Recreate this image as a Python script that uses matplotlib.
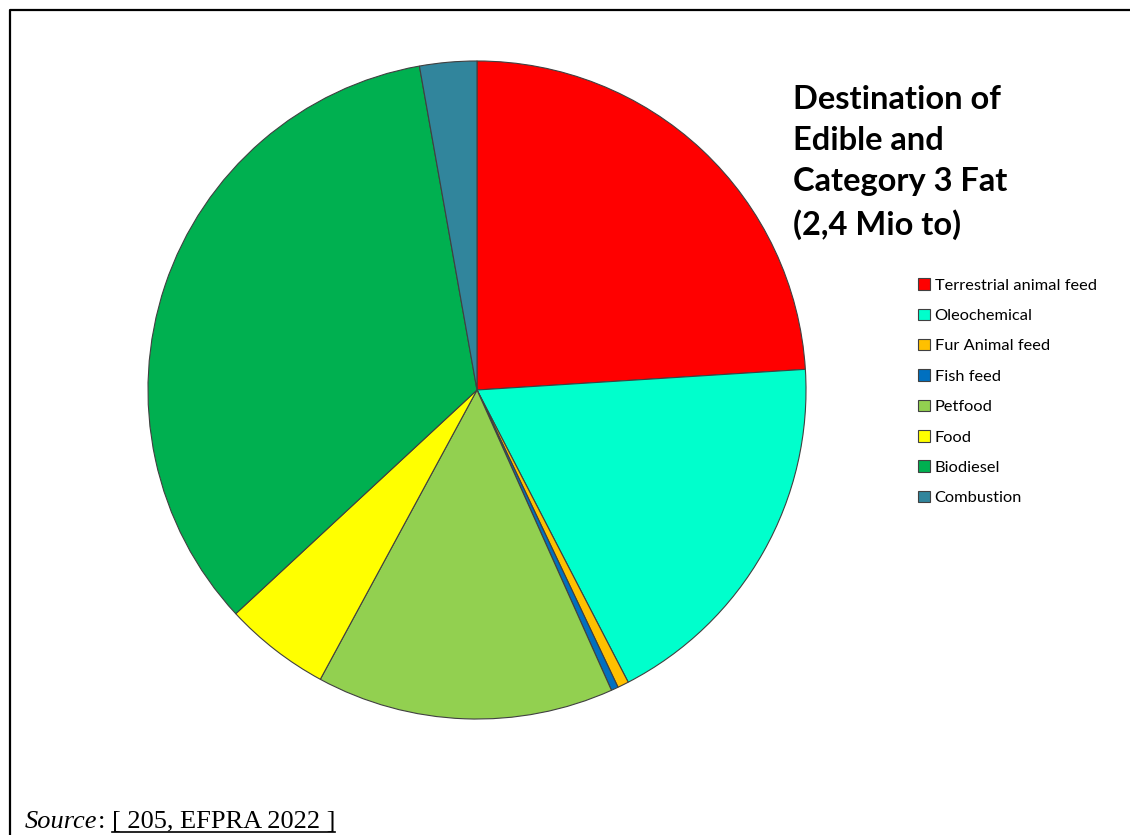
# Pie chart: destination of edible and category 3 fat
import matplotlib
matplotlib.use('Agg')
import matplotlib.pyplot as plt
from matplotlib.lines import Line2D

# Data (shares in %)
labels = ['Terrestrial animal feed', 'Oleochemical', 'Fur Animal feed', 'Fish feed',
          'Petfood', 'Food', 'Biodiesel', 'Combustion']
shares = [24.0, 18.4, 0.55, 0.35, 14.6, 5.2, 34.1, 2.8]
colors = ['#FF0000', '#00FFCC', '#FFC000', '#0070C0',
          '#92D050', '#FFFF00', '#00B050', '#31859C']

W, H = 1130, 835
fig = plt.figure(figsize=(W / 100, H / 100), dpi=100)

# Pie
ax = fig.add_axes([147 / W, 1 - 721 / H, 660 / W, 662 / H])
wedges, _ = ax.pie(shares, colors=colors, startangle=90, counterclock=False,
                   wedgeprops={'edgecolor': '#404040', 'linewidth': 0.8})
ax.set_xlim(-1.003, 1.003)
ax.set_ylim(-1.003, 1.003)
ax.set_aspect('equal')

# Title
fig.text(793 / W, 1 - 85 / H, 'Destination of\nEdible and\nCategory 3 Fat\n(2,4 Mio to)',
         ha='left', va='top', fontsize=23.5, fontweight='bold', family='Lato',
         linespacing=1.5)

# Legend
fig.legend(wedges, labels, loc='upper left', bbox_to_anchor=(910 / W, 1 - 270 / H),
           frameon=False, prop={'family': 'Lato', 'size': 11.8},
           handlelength=0.7, handleheight=0.7, handletextpad=0.3,
           labelspacing=0.97, borderpad=0)

# Source line
base = 7 / H
t1 = fig.text(25 / W, base, 'Source', style='italic', family='Liberation Serif',
              fontsize=19, ha='left', va='baseline')
fig.canvas.draw()
r = fig.canvas.get_renderer()
bb = t1.get_window_extent(r)
t2 = fig.text(bb.x1 / W, base, ': ', family='Liberation Serif', fontsize=19,
              ha='left', va='baseline')
bb2 = t2.get_window_extent(r)
t3 = fig.text(bb2.x1 / W, base, '[ 205, EFPRA 2022 ]', family='Liberation Serif',
              fontsize=19, ha='left', va='baseline')
bb3 = t3.get_window_extent(r)
fig.add_artist(Line2D([bb3.x0 / W, bb3.x1 / W], [3.5 / H, 3.5 / H], color='black', lw=1.2))

# Frame (top and left only)
fig.add_artist(Line2D([10 / W, 10 / W, 1], [0, 1 - 10 / H, 1 - 10 / H],
                      color='black', lw=1.6))

fig.savefig('out.png', dpi=100)
